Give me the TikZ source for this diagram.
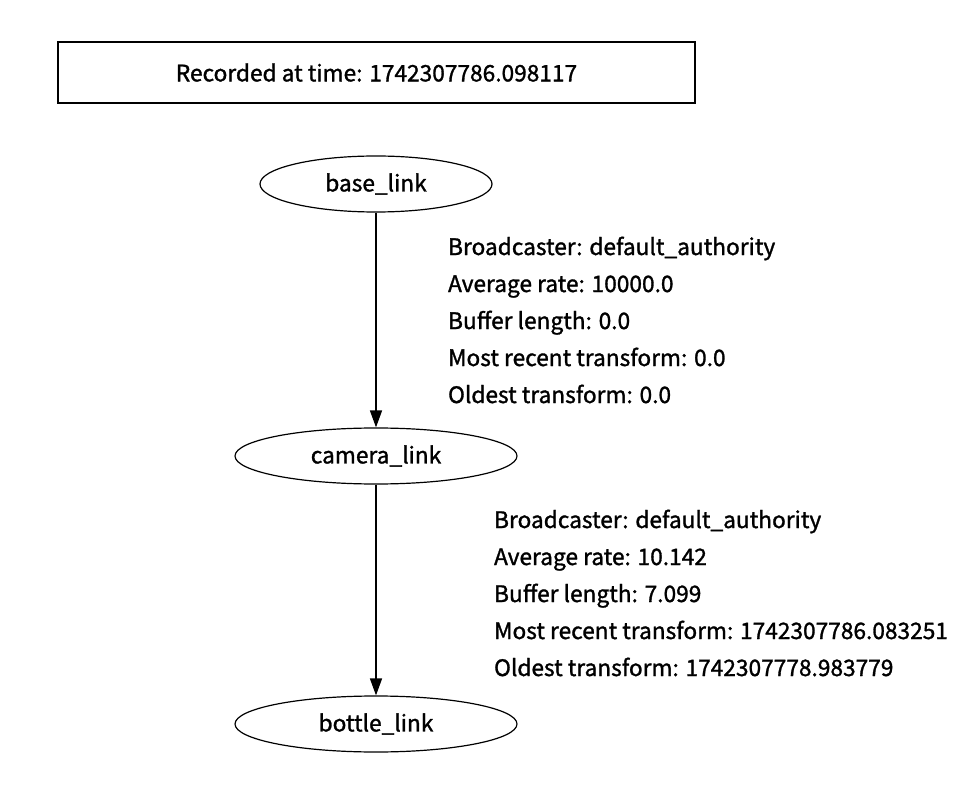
\documentclass[tikz,border=0pt]{standalone}
\usepackage{fontspec}
\setmainfont{Noto Sans CJK SC}[FakeBold=1.3]
\usetikzlibrary{arrows.meta, shapes.geometric}

\begin{document}
\begin{tikzpicture}[x=1pt, y=-1pt, font=\fontsize{22.7}{37}\selectfont]
\useasboundingbox (0, 0) rectangle (972, 786);
\node (stamp) at (376.5, 72.5) [draw, line width=1.2pt, minimum width=637pt, minimum height=61pt] {Recorded at time: 1742307786.098117};

\begin{scope}[every node/.style={ellipse,draw,line width=1.2pt,inner sep=0pt,minimum height=56pt}]
    \node (base) at (376, 184) [minimum width=232pt] {base\_link};
    \node (camera) at (376, 456) [minimum width=282pt] {camera\_link};
    \node (bottle) at (376, 724) [minimum width=282pt] {bottle\_link};
\end{scope}

\begin{scope}[>={Triangle[length=17pt,width=12pt]},
              every node/.style={align=left,anchor=west},
              every edge/.style={draw=black,line width=1.5pt}]
    \path [->] (base) edge node [xshift=68pt] {Broadcaster: default\_authority\\Average rate: 10000.0\\Buffer length: 0.0\\Most recent transform: 0.0\\Oldest transform: 0.0} (camera);
    \path [->] (camera) edge node [xshift=114pt, yshift=-3pt] {Broadcaster: default\_authority\\Average rate: 10.142\\Buffer length: 7.099\\Most recent transform: 1742307786.083251\\Oldest transform: 1742307778.983779} (bottle);
\end{scope}
\end{tikzpicture}
\end{document}
